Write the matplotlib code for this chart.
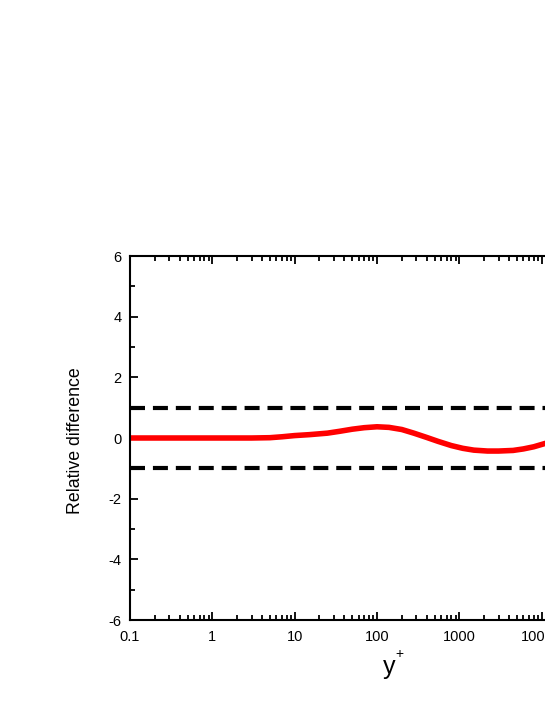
import matplotlib
matplotlib.use("Agg")
import matplotlib.pyplot as plt
from matplotlib.ticker import LogLocator, FixedLocator, NullFormatter

plt.rcParams['font.family'] = ['Liberation Sans', 'DejaVu Sans']
plt.rcParams['axes.unicode_minus'] = False

# curve
yplus = [0.1, 1, 3, 5, 7, 10, 15, 25, 35, 50, 70, 100, 140, 200, 280, 400,
         550, 800, 1100, 1500, 2200, 3000, 4500, 6000, 8000, 11000, 13000]
rel_diff = [0.0, 0.0, 0.0, 0.01, 0.04, 0.08, 0.11, 0.16, 0.22, 0.29, 0.34, 0.37,
            0.35, 0.28, 0.16, 0.02, -0.11, -0.25, -0.34, -0.40, -0.43, -0.43,
            -0.41, -0.36, -0.29, -0.18, -0.13]
bounds = [1.0, -1.0]

fig = plt.figure(figsize=(5.45, 7.05), dpi=100)
ax = fig.add_axes([130 / 545, 85 / 705, 494 / 545, 364 / 705])

for b in bounds:
    ax.axhline(b, color='black', lw=3, dashes=(3.6, 1.9))
ax.plot(yplus, rel_diff, color='#ff0000', lw=4, solid_capstyle='butt')

ax.set_xscale('log')
ax.set_xlim(0.1, 1e5)
ax.set_ylim(-6, 6)

ax.xaxis.set_major_locator(FixedLocator([0.1, 1, 10, 100, 1000, 10000, 100000]))
ax.set_xticklabels(['0.1', '1', '10', '100', '1000', '10000', '100000'])
ax.xaxis.set_minor_locator(LogLocator(base=10, subs=range(2, 10), numticks=20))
ax.xaxis.set_minor_formatter(NullFormatter())
ax.set_yticks([-6, -4, -2, 0, 2, 4, 6])
ax.set_yticklabels(['-6', '-4', '-2', '0', '2', '4', '6'])
ax.yaxis.set_minor_locator(FixedLocator([-5, -3, -1, 1, 3, 5]))

ax.tick_params(which='both', direction='in', top=True, right=True, width=1.3,
               labelsize=10.5)
ax.tick_params(which='major', length=6)
ax.tick_params(axis='x', which='major', pad=7)
ax.tick_params(axis='y', which='major', pad=6)
ax.tick_params(which='minor', length=3.5)
for s in ax.spines.values():
    s.set_linewidth(1.5)

fig.text(75 / 545, 1 - 441 / 705, 'Relative difference', rotation=90,
         ha='center', va='center', fontsize=12.8)
fig.text(389 / 545, 1 - 667 / 705, 'y', ha='center', va='center', fontsize=18)
fig.text(399 / 545, 1 - 654 / 705, '+', ha='center', va='center', fontsize=10)

fig.savefig('out.png', dpi=100)
